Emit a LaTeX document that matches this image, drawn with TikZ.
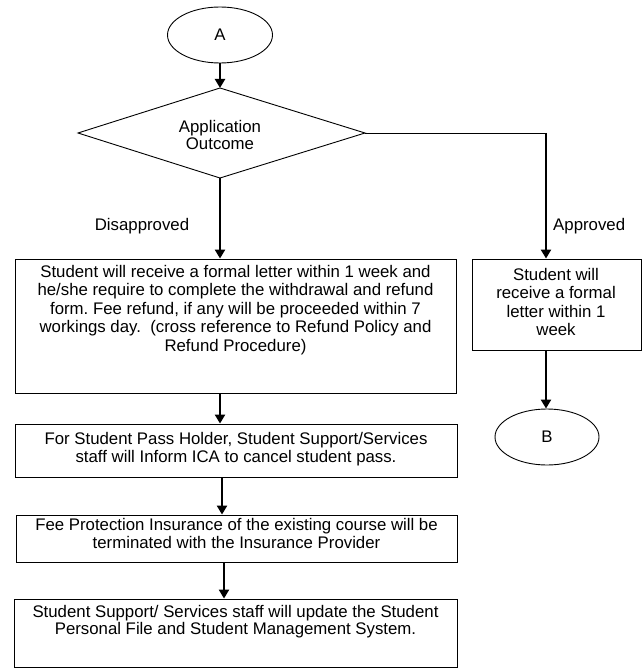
\documentclass[tikz,border=0pt]{standalone}
\usepackage{fontspec}
\setmainfont{Liberation Sans}
\usetikzlibrary{shapes.geometric,arrows.meta}
\frenchspacing
\begin{document}
\begin{tikzpicture}[x=1pt,y=-1pt,
  txt/.style={font=\fontsize{16.8}{18.5}\selectfont, align=center, inner sep=0pt},
  boxstyle/.style={draw, line width=0.9pt, rectangle, inner sep=0pt},
  ovalstyle/.style={draw, line width=0.9pt, ellipse, inner sep=0pt, minimum width=105pt, minimum height=56pt, font=\fontsize{16.8}{18.5}\selectfont},
  arr/.style={line width=2.6pt, -{Triangle[length=9pt,width=10pt]}},
  thinline/.style={line width=0.9pt}
]
\useasboundingbox (0,0) rectangle (642,668);

% terminators
\node[ovalstyle] (A) at (220,35) {A};
\node[ovalstyle, minimum width=104pt] (B) at (547,437) {B};

% decision diamond
\coordinate (dT) at (220,88);
\coordinate (dB) at (220,178);
\coordinate (dL) at (78,133);
\coordinate (dR) at (365,133);
\draw[thinline] (dT) -- (dR) -- (dB) -- (dL) -- cycle;
\node[txt, font=\fontsize{16.8}{17}\selectfont] (dtext) at (220,135) {Application\\Outcome};

% boxes
\node[boxstyle, minimum width=441pt, minimum height=134pt] (box1) at (235.5,326) {};
\node[txt] (t1) at (235.5,310) {Student will receive a formal letter within 1 week and\\he/she require to complete the withdrawal and refund\\form. Fee refund, if any will be proceeded within 7\\workings day.\ \ (cross reference to Refund Policy and\\Refund Procedure)};

\node[boxstyle, minimum width=169pt, minimum height=91pt] (rbox) at (556.5,304.5) {};
\node[txt] (tr) at (556,302) {Student will\\receive a formal\\letter within 1\\week};

\node[boxstyle, minimum width=442pt, minimum height=53pt] (box2) at (236,450.5) {};
\node[txt, font=\fontsize{16.8}{18}\selectfont] (t2) at (236,449) {For Student Pass Holder, Student Support/Services\\staff will Inform ICA to cancel student pass.};

\node[boxstyle, minimum width=441pt, minimum height=47pt] (box3) at (236.5,538.5) {};
\node[txt, font=\fontsize{16.8}{18}\selectfont] (t3) at (236.5,533) {Fee Protection Insurance of the existing course will be\\terminated with the Insurance Provider};

\node[boxstyle, minimum width=443pt, minimum height=68pt] (box4) at (235.5,633) {};
\node[txt, font=\fontsize{16.8}{17.5}\selectfont] (t4) at (235.5,621.5) {Student Support/ Services staff will update the Student\\Personal File and Student Management System.};

% labels
\node[txt] (ldis) at (142,226) {Disapproved};
\node[txt, anchor=west] (lapp) at (553,226) {Approved};

% connectors
\coordinate (corner) at (546,133);
\draw[arr] (A.south) -- (dT);
\draw[arr] (dB) -- (box1.north -| dB);
\draw[thinline] (dR) -- (corner);
\draw[arr] (corner) -- (rbox.north -| corner);
\draw[arr] (rbox.south -| corner) -- (B.north -| corner);
\draw[arr] (box1.south -| dB) -- (box2.north -| dB);
\coordinate (c2) at (222,0);
\draw[arr] (box2.south -| c2) -- (box3.north -| c2);
\coordinate (c3) at (224,0);
\draw[arr] (box3.south -| c3) -- (box4.north -| c3);
\end{tikzpicture}
\end{document}
